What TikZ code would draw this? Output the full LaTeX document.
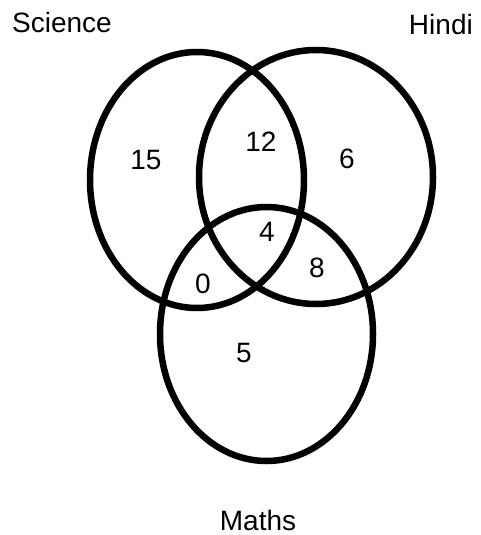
\documentclass[tikz,border=0pt]{standalone}
\usepackage{fontspec}
\setmainfont{Liberation Sans}
\usetikzlibrary{shapes.geometric}
\begin{document}
\begin{tikzpicture}[x=1pt,y=-1pt,
  setring/.style={draw=black, line width=6.5pt, ellipse, inner sep=0pt, fill=none},
  lbl/.style={font=\fontsize{28}{32}\selectfont, inner sep=0pt, text=black},
  num/.style={font=\fontsize{28}{32}\selectfont, inner sep=0pt, text=black, anchor=center}]
\useasboundingbox[fill=white] (0,0) rectangle (481,535);
\node[setring, minimum width=214pt, minimum height=256pt] (sci) at (197,180) {};
\node[setring, minimum width=234pt, minimum height=254pt] (hin) at (316,177) {};
\node[setring, minimum width=213pt, minimum height=254pt] (mat) at (266.5,334) {};
\node[lbl, anchor=base west] (science) at (12,33) {Science};
\node[lbl, anchor=base east] (hindi) at (473,35) {Hindi};
\node[lbl, anchor=base] (maths) at (258,530) {Maths};
\node[num] (n15) at (146,160) {15};
\node[num] (n12) at (261,142) {12};
\node[num] (n6) at (347,159) {6};
\node[num] (n4) at (267,232) {4};
\node[num] (n8) at (317,268) {8};
\node[num] (n0) at (203,284) {0};
\node[num] (n5) at (244,353) {5};
\end{tikzpicture}
\end{document}
